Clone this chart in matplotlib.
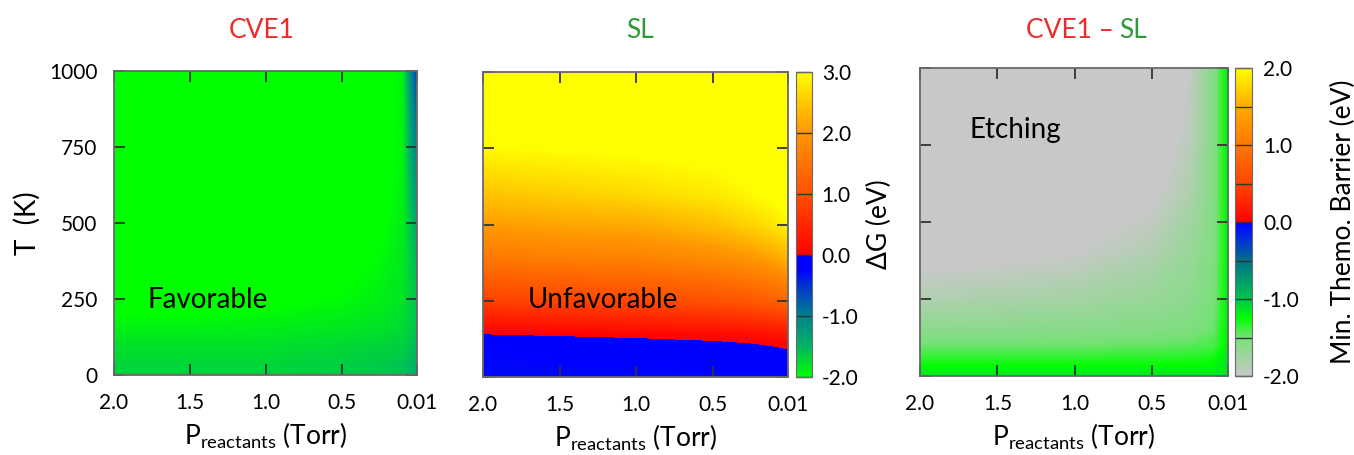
import numpy as np
import matplotlib.pyplot as plt
from matplotlib.colors import LinearSegmentedColormap, Normalize
from matplotlib.cm import ScalarMappable

plt.rcParams['font.family'] = ['Lato', 'DejaVu Sans']
plt.rcParams['axes.unicode_minus'] = False
plt.rcParams['mathtext.fontset'] = 'custom'
plt.rcParams['mathtext.rm'] = 'Lato'

# grid of reactant pressure (Torr) and temperature (K)
pressure = [2.0, 1.5, 1.0, 0.5, 0.25, 0.1, 0.01]
temperature = [0, 100, 150, 250, 400, 500, 600, 750, 1000]

# Delta G (eV) for the CVE1 pathway, rows = temperature, cols = pressure
dg_cve1 = [
    [-1.68, -1.68, -1.68, -1.64, -1.60, -1.56, -1.45],
    [-1.80, -1.80, -1.80, -1.75, -1.72, -1.68, -1.55],
    [-1.90, -1.90, -1.88, -1.83, -1.80, -1.75, -1.60],
    [-2.10, -2.10, -2.05, -1.98, -1.90, -1.82, -1.60],
    [-2.30, -2.30, -2.25, -2.10, -1.98, -1.85, -1.50],
    [-2.40, -2.40, -2.35, -2.20, -2.05, -1.88, -1.40],
    [-2.50, -2.50, -2.45, -2.25, -2.08, -1.90, -1.25],
    [-2.60, -2.60, -2.50, -2.30, -2.12, -1.92, -1.00],
    [-2.70, -2.70, -2.60, -2.40, -2.15, -1.90, -0.55],
]

# Delta G (eV) for the SL pathway
dg_sl = [
    [-0.30, -0.30, -0.30, -0.30, -0.30, -0.30, -0.30],
    [-0.25, -0.20, -0.17, -0.12, -0.07, -0.01, 0.03],
    [0.05, 0.08, 0.12, 0.18, 0.23, 0.28, 0.33],
    [0.80, 0.85, 0.90, 1.00, 1.10, 1.20, 1.30],
    [1.60, 1.70, 1.75, 1.90, 2.05, 2.20, 2.35],
    [2.05, 2.15, 2.20, 2.40, 2.60, 2.75, 2.90],
    [2.45, 2.55, 2.65, 2.80, 2.95, 3.05, 3.15],
    [2.95, 3.00, 3.05, 3.10, 3.15, 3.20, 3.20],
    [3.20, 3.20, 3.20, 3.20, 3.20, 3.20, 3.20],
]

# minimum thermodynamic barrier (eV), CVE1 - SL
barrier = [
    [-1.15, -1.15, -1.15, -1.15, -1.15, -1.15, -1.15],
    [-1.48, -1.48, -1.48, -1.46, -1.44, -1.40, -1.20],
    [-1.62, -1.62, -1.60, -1.57, -1.54, -1.47, -1.20],
    [-1.85, -1.82, -1.78, -1.70, -1.63, -1.52, -1.20],
    [-2.10, -2.05, -2.00, -1.85, -1.70, -1.55, -1.20],
    [-2.20, -2.15, -2.10, -1.95, -1.76, -1.56, -1.20],
    [-2.30, -2.25, -2.20, -2.05, -1.83, -1.57, -1.20],
    [-2.40, -2.35, -2.30, -2.15, -1.90, -1.57, -1.20],
    [-2.50, -2.45, -2.40, -2.25, -1.97, -1.57, -1.20],
]

x_ticks = [2.0, 1.5, 1.0, 0.5, 0.01]
x_ticklabels = ['2.0', '1.5', '1.0', '0.5', '0.01']
y_ticks = [0, 250, 500, 750, 1000]

RED = '#ee2a2a'
GREEN = '#2e9a3a'


def make_cmap(name, vmin, vmax, stops):
    pos = [(v - vmin) / (vmax - vmin) for v, _ in stops]
    return LinearSegmentedColormap.from_list(name, list(zip(pos, [c for _, c in stops])), N=1024)


eps = 1e-4
dg_cmap = make_cmap('dg', -2.0, 3.0, [
    (-2.0, '#00ff00'), (-1.5, '#00b464'), (-1.0, '#00828c'), (-0.5, '#0032d2'),
    (-0.25, '#0000ff'), (0.0, '#0000ff'), (eps, '#ff0000'), (1.0, '#ff5000'),
    (2.0, '#ff9600'), (2.5, '#ffc800'), (3.0, '#ffff00')])
bar_cmap = make_cmap('barrier', -2.0, 2.0, [
    (-2.0, '#c8c8c8'), (-1.5, '#78e078'), (-1.25, '#00ff00'), (-1.0, '#00c44c'),
    (-0.5, '#00708c'), (-0.2, '#0028e0'), (0.0, '#0000ff'), (eps, '#ff0000'),
    (0.5, '#ff4600'), (1.0, '#ff7800'), (1.5, '#ffaa00'), (2.0, '#ffff00')])
dg_norm = Normalize(-2.0, 3.0)
bar_norm = Normalize(-2.0, 2.0)

fig = plt.figure(figsize=(13.54, 4.55), dpi=100)
ax1 = fig.add_axes([0.0842, 0.1758, 0.2238, 0.668])
ax2 = fig.add_axes([0.3567, 0.1714, 0.2253, 0.6703])
cax2 = fig.add_axes([0.5879, 0.1714, 0.0118, 0.6703])
ax3 = fig.add_axes([0.6795, 0.1736, 0.2275, 0.6769])
cax3 = fig.add_axes([0.9121, 0.1736, 0.0126, 0.6769])

panels = [
    (ax1, dg_cve1, dg_cmap, dg_norm),
    (ax2, dg_sl, dg_cmap, dg_norm),
    (ax3, barrier, bar_cmap, bar_norm),
]
for ax, vals, cmap, norm in panels:
    levels = np.linspace(norm.vmin, norm.vmax, 401)
    ax.contourf(pressure, temperature, np.array(vals), levels=levels,
                cmap=cmap, norm=norm, extend='both')
    ax.set_xlim(2.0, 0.01)
    ax.set_ylim(0, 1000)
    ax.set_xticks(x_ticks)
    ax.set_xticklabels(x_ticklabels)
    ax.set_yticks(y_ticks)
    ax.tick_params(direction='in', length=8, width=1.3, color='#333333',
                   top=True, right=True, labelsize=15, pad=9)
    ax.tick_params(axis='x', pad=13)
    for s in ax.spines.values():
        s.set_color('#6a6a6a')
        s.set_linewidth(1.3)
    ax.set_xlabel(r'P$_{\mathrm{reactants}}$ (Torr)', fontsize=19, labelpad=5)

ax1.set_ylabel('T  (K)', fontsize=20, labelpad=6)
ax1.tick_params(axis='y', pad=12)
ax2.tick_params(labelleft=False)
ax3.tick_params(labelleft=False)

ax1.text(1.78, 247, 'Favorable', fontsize=20, ha='left', va='center')
ax2.text(1.71, 252, 'Unfavorable', fontsize=20, ha='left', va='center')
ax3.text(1.68, 800, 'Etching', fontsize=20, ha='left', va='center')

# panel headings
fig.text(0.1935, 0.934, 'CVE1', color=RED, fontsize=19, ha='center', va='center')
fig.text(0.4727, 0.934, 'SL', color=GREEN, fontsize=19, ha='center', va='center')
fig.text(0.8225, 0.934, 'CVE1 \u2013', color=RED, fontsize=19, ha='right', va='center')
fig.text(0.8265, 0.934, 'SL', color=GREEN, fontsize=19, ha='left', va='center')

# colorbars
cb2 = fig.colorbar(ScalarMappable(norm=dg_norm, cmap=dg_cmap), cax=cax2,
                   ticks=[-2, -1, 0, 1, 2, 3], format='%.1f')
cb2.ax.tick_params(direction='in', length=6, width=1.0, color='#333333',
                   left=True, right=True, labelsize=15, pad=7)
cb2.outline.set_edgecolor('#6a6a6a')
cb2.set_label('\u0394G (eV)', fontsize=19, labelpad=6)

cb3 = fig.colorbar(ScalarMappable(norm=bar_norm, cmap=bar_cmap), cax=cax3,
                   ticks=[-2, -1, 0, 1, 2], format='%.1f')
cb3.ax.set_yticks(np.arange(-1.5, 2.0, 1.0), minor=True)
cb3.ax.tick_params(which='both', direction='in', length=12.5, width=1.0,
                   color='#333333', left=False, right=True, labelsize=15, pad=8)
cb3.outline.set_edgecolor('#6a6a6a')
cb3.set_label('Min. Themo. Barrier (eV)', fontsize=19, labelpad=22)

fig.savefig('out.png', dpi=100)
